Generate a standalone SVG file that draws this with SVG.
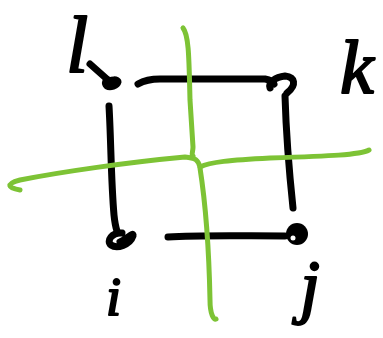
<svg xmlns="http://www.w3.org/2000/svg" width="383" height="338" viewBox="0 0 383 338">
<style>
.ink{fill:none;stroke:#000;stroke-width:7;stroke-linecap:round;stroke-linejoin:round}
.grn{fill:none;stroke:#7dc335;stroke-width:5;stroke-linecap:round;stroke-linejoin:round}
.lbl{font-family:"Liberation Serif",serif;font-style:italic;fill:#000;stroke:#000;stroke-width:2;stroke-linejoin:round}
</style>
<rect width="383" height="338" fill="#fff"/>
<g id="connectors">
<path class="ink" d="M138,84 C145,80 150,79 160,79 L265,79 C270,80 273,82 274,84"/>
<path class="ink" d="M109,106 C111,140 111,180 114,215 C115,225 116,228 117,231"/>
<path class="ink" d="M285,96 C286,130 289,170 293,208"/>
<path class="ink" d="M168,237 C200,235 240,236 285,236"/>
<path class="ink" d="M90,64 L108,80"/>
</g>
<g id="node-l">
<path class="ink" d="M106,83 C111,79 118,79 118,82 C117,86 110,88 107,86 C104,83 106,80 108,80"/>
<text class="lbl" x="66" y="72" font-size="80">l</text>
</g>
<g id="node-k">
<path class="ink" d="M270,88 C268,83 275,77 285,76 C295,77 297,85 287,93"/>
<text class="lbl" x="340" y="93" font-size="76">k</text>
</g>
<g id="node-i">
<path class="ink" d="M122,233 C112,232 106,241 111,245 C117,249 130,245 133,236 C134,231 127,239 120,242"/>
<text class="lbl" x="106" y="315" font-size="54">i</text>
</g>
<g id="node-j">
<circle cx="297" cy="234" r="11" fill="#000"/>
<circle cx="293" cy="238" r="2.5" fill="#fff"/>
<text class="lbl" x="300" y="310" font-size="72">j</text>
</g>
<g id="green-lines">
<path class="grn" d="M183,28 C189,35 189,60 190,100 L193,147 C193,152 191,155 193,156"/>
<path class="grn" d="M200,168 C205,200 209,250 210,300 C210,315 214,320 216,319"/>
<path class="grn" d="M369,150 C360,155 330,156 270,158 C230,160 210,162 200,167 C198,160 196,158 185,157 C130,162 60,172 20,180 C5,184 8,188 20,190"/>
</g>
</svg>
